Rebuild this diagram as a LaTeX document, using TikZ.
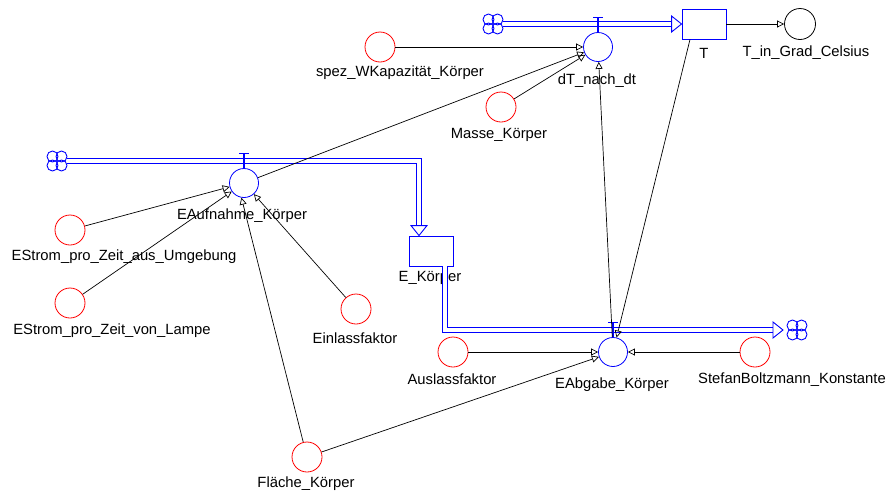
\documentclass[tikz,border=0pt]{standalone}
\usepackage{fontspec}
\setmainfont{Liberation Sans}
\usetikzlibrary{arrows.meta}

\tikzset{
  aux/.style={circle,draw=red,minimum size=30pt,inner sep=0pt,line width=0.8pt},
  rate/.style={circle,draw=blue,minimum size=29pt,inner sep=0pt,line width=0.8pt},
  conv/.style={circle,draw=black,minimum size=31pt,inner sep=0pt,line width=0.8pt},
  stock/.style={rectangle,draw=blue,minimum width=44pt,minimum height=30pt,inner sep=0pt,line width=0.9pt},
  lab/.style={font=\fontsize{14.8}{16}\selectfont,inner sep=0pt},
  link/.style={-{Triangle[open,length=7pt,width=7pt]},line width=0.7pt},
  pipe/.style={draw=blue,double=white,double distance=3.6pt,line width=0.9pt},
  flowtip/.style={draw=blue,fill=white,line width=0.9pt},
  valve/.style={draw=blue,line width=1.2pt},
  clover/.pic={\foreach \a/\b in {-4.5/-4.5,4.5/-4.5,-4.5/4.5,4.5/4.5} \draw[blue,line width=0.9pt] (\a pt,\b pt) circle (5.5pt);}
}

\begin{document}
\begin{tikzpicture}[x=1pt,y=-1pt]
  \useasboundingbox (0,0) rectangle (891,493);

  % Stocks, rates, converter
  \node[stock] (T) at (704,24) {};
  \node[stock] (Ek) at (431,251) {};
  \node[rate] (dTdt) at (598,47) {};
  \node[rate] (EAuf) at (244,183) {};
  \node[rate] (EAb) at (613,352) {};
  \node[conv] (TC) at (800,24) {};

  % Auxiliaries
  \node[aux] (spez) at (380,47) {};
  \node[aux] (masse) at (501,107) {};
  \node[aux] (estromU) at (70,230) {};
  \node[aux] (estromL) at (70,303) {};
  \node[aux] (einlass) at (356,309) {};
  \node[aux] (flaeche) at (307,457) {};
  \node[aux] (auslass) at (453,352) {};
  \node[aux] (stefan) at (755,352) {};

  % Labels
  \node[lab] (TL) at (704,53) {T};
  \node[lab] (TCL) at (806,53) {T\_in\_Grad\_Celsius};
  \node[lab] (EkL) at (430,278) {E\_Körper};
  \node[lab] (dTdtL) at (597,81) {dT\_nach\_dt};
  \node[lab] (EAufL) at (242,216) {EAufnahme\_Körper};
  \node[lab] (EAbL) at (612,385) {EAbgabe\_Körper};
  \node[lab] (spezL) at (400,73) {spez\_WKapazität\_Körper};
  \node[lab] (masseL) at (499,135) {Masse\_Körper};
  \node[lab] (estromUL) at (124,257) {EStrom\_pro\_Zeit\_aus\_Umgebung};
  \node[lab] (estromLL) at (112,331) {EStrom\_pro\_Zeit\_von\_Lampe};
  \node[lab] (einlassL) at (355,338) {Einlassfaktor};
  \node[lab] (flaecheL) at (306,484) {Fläche\_Körper};
  \node[lab] (auslassL) at (452,379) {Auslassfaktor};
  \node[lab] (stefanL) at (792,380) {StefanBoltzmann\_Konstante};

  % Clouds
  \coordinate (src1) at (493,24);
  \coordinate (src2) at (57,161);
  \coordinate (snk) at (797,330);
  \pic at (src1) {clover};
  \pic at (src2) {clover};
  \pic at (snk) {clover};

  % Flows
  \draw[pipe] ([xshift=10pt]src1) -- ([xshift=-10pt]T.west);
  \draw[flowtip] (T.west) -- ++(-10,-8) -- ++(0,16) -- cycle;
  \draw[pipe] ([xshift=10pt]src2) -| ([xshift=-12pt,yshift=10pt]Ek.north);
  \draw[flowtip] ([xshift=-12pt]Ek.north) -- ++(-8,-10) -- ++(16,0) -- cycle;
  \draw[pipe] ([xshift=14pt]Ek.south) |- ([xshift=-24pt]snk);
  \draw[flowtip] ([xshift=-14pt]snk) -- ++(-10,-8) -- ++(0,16) -- cycle;

  % Valves
  \draw[valve] (dTdt.north) -- ++(0,-15) ++(-5,0) -- ++(10,0);
  \draw[valve] (EAuf.north) -- ++(0,-15) ++(-5,0) -- ++(10,0);
  \draw[valve] (EAb.north) -- ++(0,-15) ++(-5,0) -- ++(10,0);

  % Links
  \draw[link] (spez) -- (dTdt);
  \draw[link] (masse) -- (dTdt);
  \draw[link] (EAuf) -- (dTdt);
  \draw[link] (EAb) -- (dTdt);
  \draw[link] ([xshift=-14pt]T.south) -- (EAb);
  \draw[link] (T) -- (TC);
  \draw[link] (estromU) -- (EAuf);
  \draw[link] (estromL) -- (EAuf);
  \draw[link] (einlass) -- (EAuf);
  \draw[link] (flaeche) -- (EAuf.-100);
  \draw[link] (flaeche) -- (EAb);
  \draw[link] (auslass) -- (EAb);
  \draw[link] (stefan) -- (EAb);
\end{tikzpicture}
\end{document}
